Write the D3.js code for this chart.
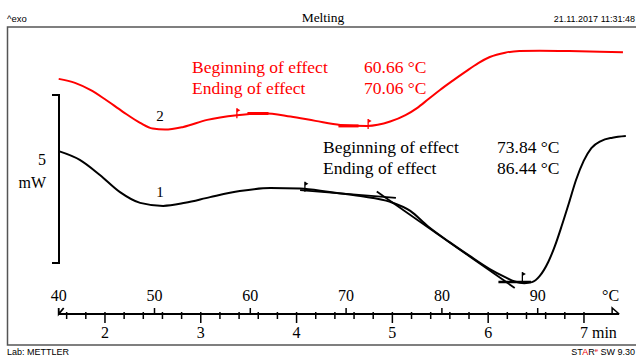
<!DOCTYPE html>
<html>
<head>
<meta charset="utf-8">
<script src="https://cdn.jsdelivr.net/npm/d3@7"></script>
<style>
  body { margin: 0; background: #fff; }
  svg { display: block; }
</style>
</head>
<body>
<svg id="chart"></svg>
<script>
var WIDTH = 636, HEIGHT = 357;

// curve 1 (black): temperature in °C, heat flow in mW (offset)
var curve1Temp = [40, 42.2, 44.3, 46.4, 48.5, 50.9, 53.2, 55.8, 58.9, 62.1, 65.2, 68.3, 71.5, 74.6, 76.7, 78.5, 80.8, 82.9, 85.0, 86.6, 87.6, 88.6, 89.4, 90.2, 91.1, 91.8, 92.5, 93.3, 94.0, 94.8, 95.6, 96.6, 97.8, 99.2];
var curve1Val  = [3.33, 3.07, 2.62, 2.11, 1.79, 1.70, 1.79, 1.96, 2.14, 2.23, 2.22, 2.11, 1.99, 1.82, 1.55, 1.10, 0.62, 0.21, -0.18, -0.42, -0.55, -0.60, -0.57, -0.39, 0.03, 0.51, 1.10, 1.82, 2.47, 3.04, 3.42, 3.63, 3.73, 3.78];

// curve 2 (red)
var curve2Temp = [40, 41.7, 43.3, 44.8, 46.7, 48.5, 49.8, 51.1, 53.0, 55.5, 58.6, 61.4, 64.2, 66.8, 69.4, 72.2, 74.6, 76.2, 77.4, 78.6, 79.8, 81.1, 82.4, 83.8, 85.0, 86.6, 88.1, 90.2, 93.3, 96.5, 98.9];
var curve2Val  = [5.48, 5.36, 5.15, 4.88, 4.50, 4.17, 4.00, 3.97, 4.05, 4.26, 4.40, 4.46, 4.36, 4.23, 4.11, 4.08, 4.21, 4.40, 4.61, 4.88, 5.15, 5.42, 5.68, 5.95, 6.13, 6.26, 6.31, 6.32, 6.31, 6.29, 6.27];

// evaluation lines: [T1, v1, T2, v2]
var curve1Tangents = [[65.2, 2.17, 75.2, 1.94], [73.2, 2.125, 87.6, -0.744], [85.9, -0.565, 89.3, -0.565]];
var curve1Flags = [[65.7, 2.24], [88.4, -0.45]];
var curve2Tangents = [[59.7, 4.45, 61.9, 4.45], [69.2, 4.08, 71.3, 4.08]];
var curve2Flags = [[58.6, 4.43], [72.3, 4.11]];

var curve1Text = ["Beginning of effect", "Ending of effect"];
var curve1Results = ["73.84 °C", "86.44 °C"];
var curve2Results = ["60.66 °C", "70.06 °C"];

var tempTicks = [40, 50, 60, 70, 80, 90];
var timeTicks = [2, 3, 4, 5, 6, 7];
var HEATING_RATE = 10;      // K/min
var TEMP_AT_ZERO = 24.83;   // °C at t = 0 min

var SERIF = "'Liberation Serif', 'Times New Roman', serif";
var SANS = "'Liberation Sans', Arial, sans-serif";

var svg = d3.select("#chart").attr("width", WIDTH).attr("height", HEIGHT);

var x = d3.scaleLinear().domain([40, 100]).range([58.7, 633.5]);
var y = d3.scaleLinear().domain([0, 5]).range([263, 95]);
function timeToTemp(t) { return TEMP_AT_ZERO + t * HEATING_RATE; }

//header
svg.append("text").attr("x", 7).attr("y", 22).style("font", "9.5px " + SANS).text("^exo");
svg.append("text").attr("x", 323).attr("y", 22).attr("text-anchor", "middle")
    .style("font", "13.5px " + SERIF).text("Melting");
svg.append("text").attr("x", 635).attr("y", 22).attr("text-anchor", "end")
    .style("font", "9px " + SANS).text("21.11.2017 11:31:48");

//frame
svg.append("rect")
    .attr("x", 7.5).attr("y", 27).attr("width", 720).attr("height", 318)
    .style("fill", "none").style("stroke", "#555").style("stroke-width", 1.5);

//footer
svg.append("text").attr("x", 7).attr("y", 355).style("font", "9px " + SANS).text("Lab: METTLER");
var star = svg.append("text").attr("x", 635).attr("y", 355).attr("text-anchor", "end")
    .style("font", "9px " + SANS);
star.append("tspan").text("ST");
star.append("tspan").style("fill", "#e00").text("A");
star.append("tspan").text("R");
star.append("tspan").style("fill", "#e00").attr("dy", -3).style("font-size", "6px").text("e");
star.append("tspan").attr("dy", 3).text(" SW 9.30");

//scale bar (5 mW)
var bar = svg.append("g").style("stroke", "#000").style("stroke-width", 2).style("fill", "none");
bar.append("path").attr("d", "M52," + y(5) + "H59V" + y(0) + "H52");
svg.append("text").attr("x", 46).attr("y", 165).attr("text-anchor", "end")
    .style("font", "16px " + SERIF).text("5");
svg.append("text").attr("x", 46).attr("y", 188).attr("text-anchor", "end")
    .style("font", "16px " + SERIF).text("mW");

//curves
var line = d3.line().x(function (d) { return x(d[0]); }).y(function (d) { return y(d[1]); })
    .curve(d3.curveMonotoneX);
svg.append("path")
    .datum(d3.zip(curve2Temp, curve2Val))
    .attr("d", line)
    .style("fill", "none").style("stroke", "#ff0000").style("stroke-width", 2);
svg.append("path")
    .datum(d3.zip(curve1Temp, curve1Val))
    .attr("d", line)
    .style("fill", "none").style("stroke", "#000").style("stroke-width", 2);

//evaluation lines
function drawTangents(list, color, width) {
    svg.selectAll(null).data(list).enter().append("line")
        .attr("x1", function (d) { return x(d[0]); })
        .attr("y1", function (d) { return y(d[1]); })
        .attr("x2", function (d) { return x(d[2]); })
        .attr("y2", function (d) { return y(d[3]); })
        .style("stroke", color).style("stroke-width", width);
}
function drawFlags(list, color) {
    var g = svg.selectAll(null).data(list).enter().append("g")
        .attr("transform", function (d) { return "translate(" + x(d[0]) + "," + y(d[1]) + ")"; });
    g.append("line").attr("x1", 0).attr("y1", -6).attr("x2", 0).attr("y2", 4)
        .style("stroke", color).style("stroke-width", 1.3);
    g.append("path").attr("d", "M0,-6L3.5,-4L0,-2Z").style("fill", color);
}
drawTangents(curve1Tangents.slice(0, 2), "#000", 1.8);
drawTangents(curve1Tangents.slice(2), "#000", 2.6);
drawTangents(curve2Tangents, "#ff0000", 3);
drawFlags(curve1Flags, "#000");
drawFlags(curve2Flags, "#ff0000");

//curve labels
svg.append("text").attr("x", 160).attr("y", 121).attr("text-anchor", "middle")
    .style("font", "15px " + SERIF).text("2");
svg.append("text").attr("x", 160).attr("y", 197).attr("text-anchor", "middle")
    .style("font", "15px " + SERIF).text("1");

//results
function drawResults(x0, x1, y0, results, color) {
    curve1Text.forEach(function (t, i) {
        svg.append("text").attr("x", x0).attr("y", y0 + i * 21)
            .style("font", "17.5px " + SERIF).style("fill", color).text(t);
        svg.append("text").attr("x", x1).attr("y", y0 + i * 21)
            .style("font", "17.5px " + SERIF).style("fill", color).text(results[i]);
    });
}
drawResults(192, 364, 73, curve2Results, "#ff0000");
drawResults(323, 497, 153, curve1Results, "#000");

//temperature / time axis
var AXIS_Y = 314;
var axis = svg.append("g").style("stroke", "#000").style("fill", "none");
axis.append("line").attr("x1", x(40)).attr("x2", x(98.5)).attr("y1", AXIS_Y).attr("y2", AXIS_Y)
    .style("stroke-width", 2);
axis.append("path").attr("d", "M" + (x(40) + 5) + "," + (AXIS_Y - 6) + "L" + x(40) + "," + AXIS_Y + "V" + (AXIS_Y - 6))
    .style("stroke-width", 1.8);
axis.append("path").attr("d", "M" + (x(98.5) - 7) + "," + AXIS_Y + "V" + (AXIS_Y - 6) + "L" + x(98.5) + "," + AXIS_Y)
    .style("stroke-width", 1.5);

var minorTimes = d3.range(1.6, 7.01, 0.2);
axis.selectAll(null).data(minorTimes).enter().append("line")
    .attr("x1", function (t) { return x(timeToTemp(t)); })
    .attr("x2", function (t) { return x(timeToTemp(t)); })
    .attr("y1", AXIS_Y - 2)
    .attr("y2", function (t) { return Math.abs(t - Math.round(t)) < 0.01 ? AXIS_Y + 9 : AXIS_Y + 5; })
    .style("stroke-width", 1.5);
axis.selectAll(null).data(tempTicks.slice(1)).enter().append("line")
    .attr("x1", function (d) { return x(d); }).attr("x2", function (d) { return x(d); })
    .attr("y1", AXIS_Y - 6).attr("y2", AXIS_Y)
    .style("stroke-width", 1.5);

svg.selectAll(null).data(tempTicks).enter().append("text")
    .attr("x", function (d) { return x(d); }).attr("y", 301)
    .attr("text-anchor", "middle").style("font", "16px " + SERIF)
    .text(function (d) { return d; });
svg.append("text").attr("x", x(98.5)).attr("y", 301).attr("text-anchor", "end")
    .style("font", "16px " + SERIF).text("°C");

svg.selectAll(null).data(timeTicks).enter().append("text")
    .attr("x", function (t) { return x(timeToTemp(t)); }).attr("y", 338)
    .attr("text-anchor", "middle").style("font", "16px " + SERIF)
    .text(function (t) { return t; });
svg.append("text").attr("x", x(timeToTemp(7)) + 8).attr("y", 338)
    .style("font", "16px " + SERIF).text("min");
</script>
</body>
</html>
